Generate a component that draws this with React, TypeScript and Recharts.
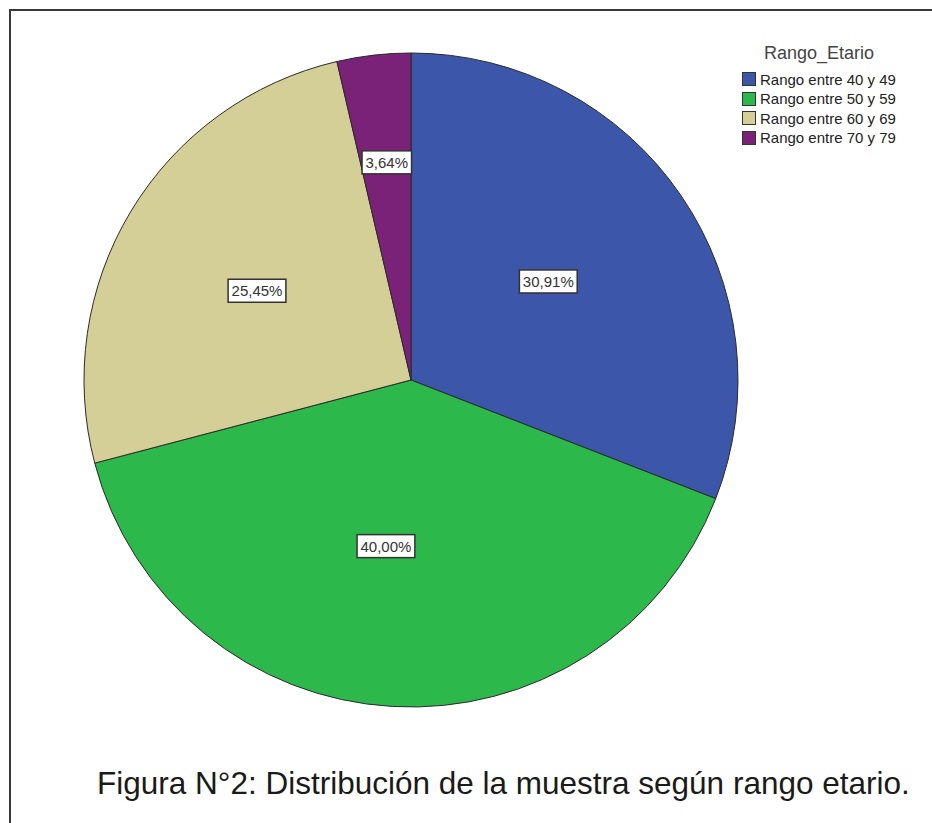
import React from 'react';
import { PieChart, Pie, Cell, Legend } from 'recharts';

const categories = ['Rango entre 40 y 49', 'Rango entre 50 y 59', 'Rango entre 60 y 69', 'Rango entre 70 y 79'];
const counts = [17, 22, 14, 2];
const legendTitle = 'Rango_Etario';
const caption = 'Figura N°2: Distribución de la muestra según rango etario.';

const colors = ['#3c56a9', '#2db84c', '#d4cf97', '#7a2277'];
// where SPSS put each slice label (distance from centre, angle nudge)
const labelRadius = [169, 168, 178, 219];
const labelShift = [1.3, -5.3, 1.0, -0.2];

const FONT = '"Liberation Sans", Arial, sans-serif';
const RAD = Math.PI / 180;

const data = categories.map((name, i) => ({ name, value: counts[i] }));

const renderLabel = (props: any) => {
  const { cx, cy, midAngle, percent, index } = props;
  const a = (midAngle + labelShift[index]) * RAD;
  const x = cx + labelRadius[index] * Math.cos(-a);
  const y = cy + labelRadius[index] * Math.sin(-a);
  const text = (percent * 100).toFixed(2).replace('.', ',') + '%';
  const w = text.length * 8.3 + 8;
  const h = 23;
  return (
    <g>
      <rect x={x - w / 2} y={y - h / 2} width={w} height={h} fill="#fff" stroke="#333" strokeWidth={1.5} />
      <text x={x} y={y} textAnchor="middle" dominantBaseline="central" fontSize={15} fill="#333" fontFamily={FONT}>
        {text}
      </text>
    </g>
  );
};

const renderLegend = () => (
  <div style={{ position: 'relative', width: 190, height: 115, fontFamily: FONT }}>
    <div style={{ position: 'absolute', left: 0, top: 3, width: 178, textAlign: 'center', fontSize: 18, lineHeight: '20px', color: '#444' }}>
      {legendTitle}
    </div>
    {categories.map((c, i) => (
      <div key={c} style={{ position: 'absolute', left: 12, top: 39 + i * 19.5 - 10, height: 20, display: 'flex', alignItems: 'center' }}>
        <span style={{ width: 12, height: 12, background: colors[i], border: '1px solid #333', display: 'inline-block' }} />
        <span style={{ marginLeft: 4, fontSize: 15, color: '#222', whiteSpace: 'nowrap' }}>{c}</span>
      </div>
    ))}
  </div>
);

const App: React.FC = () => {
  return (
    <div style={{ position: 'absolute', left: 0, top: 0, width: 932, height: 823, background: '#fff', overflow: 'hidden' }}>
      <div style={{ position: 'absolute', left: 9, top: 9, width: 940, height: 830, borderLeft: '2px solid #3a3a3a', borderTop: '2px solid #3a3a3a' }} />
      <PieChart width={932} height={823} margin={{ top: 0, right: 0, bottom: 0, left: 0 }}>
        <Pie
          data={data}
          dataKey="value"
          nameKey="name"
          cx={411}
          cy={380}
          outerRadius={327}
          startAngle={90}
          endAngle={-270}
          stroke="#2a2a2a"
          strokeWidth={1}
          label={renderLabel}
          labelLine={false}
          isAnimationActive={false}
        >
          {data.map((d, i) => (
            <Cell key={d.name} fill={colors[i]} />
          ))}
        </Pie>
        <Legend content={renderLegend} wrapperStyle={{ left: 730, top: 40, width: 190 }} />
      </PieChart>
      <div style={{ position: 'absolute', left: 97, top: 764, fontFamily: FONT, fontSize: 31.5, lineHeight: '38px', color: '#1a1a1a', whiteSpace: 'nowrap' }}>
        {caption}
      </div>
    </div>
  );
};

export default App;
